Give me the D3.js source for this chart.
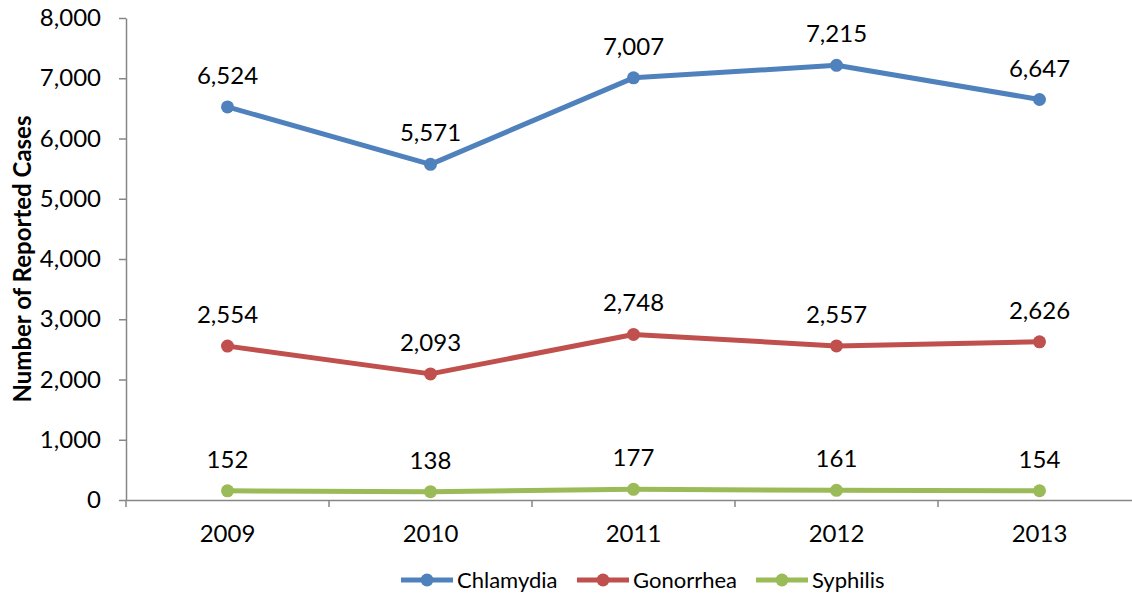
<!doctype html>
<html lang="en">
<head>
<meta charset="utf-8">
<title>Reported Cases</title>
<script src="https://cdn.jsdelivr.net/npm/d3@7"></script>
<style>
	body { margin: 0; background: #fff; }
	text { font-family: Lato, "Open Sans", sans-serif; fill: #000; }
</style>
</head>
<body>
<div id="chart"></div>
<script>
/* data */
var years = ['2009', '2010', '2011', '2012', '2013'];
var chlamydia = [6524, 5571, 7007, 7215, 6647];
var gonorrhea = [2554, 2093, 2748, 2557, 2626];
var syphilis = [152, 138, 177, 161, 154];
var yTicks = [0, 1000, 2000, 3000, 4000, 5000, 6000, 7000, 8000];

var series = [
	{ name: 'Chlamydia', values: chlamydia, color: '#4f81bd' },
	{ name: 'Gonorrhea', values: gonorrhea, color: '#c0504d' },
	{ name: 'Syphilis', values: syphilis, color: '#9bbb59' }
];

/* view */
var size = { width: 1132, height: 595 };
var margin = { top: 18, right: -9, bottom: 95, left: 126 };

var svg = d3.select('#chart').append('svg')
	.attr('width', size.width)
	.attr('height', size.height);

var x = d3.scaleBand()
	.domain(years)
	.range([margin.left, size.width - margin.right]);

var y = d3.scaleLinear()
	.domain([0, 8000])
	.range([size.height - margin.bottom, margin.top]);

var fmt = d3.format(',');

// y axis
var yAxis = svg.append('g')
	.attr('transform', 'translate(' + margin.left + ',0)')
	.call(d3.axisLeft(y).tickValues(yTicks).tickFormat(fmt).tickSize(7).tickSizeOuter(0));
yAxis.select('.domain').attr('stroke', '#868686').attr('stroke-width', 1.5);
yAxis.selectAll('.tick line').attr('stroke', '#868686').attr('stroke-width', 1.5);
yAxis.selectAll('.tick text')
	.attr('x', -25)
	.style('font-size', '24px');

// x axis, ticks at band edges
var xAxis = svg.append('g')
	.attr('transform', 'translate(0,' + y(0) + ')')
	.call(d3.axisBottom(x).tickSize(0).tickSizeOuter(0));
xAxis.select('.domain').attr('stroke', '#868686').attr('stroke-width', 1.5);
xAxis.selectAll('.tick text')
	.attr('y', 25)
	.style('font-size', '24px');
xAxis.selectAll('.edge')
	.data(years.map(function(d){ return x(d); }).concat([x.range()[1]]))
	.enter().append('line')
	.attr('x1', function(d){ return d; })
	.attr('x2', function(d){ return d; })
	.attr('y1', 0)
	.attr('y2', 7)
	.attr('stroke', '#868686')
	.attr('stroke-width', 1.5);

// y axis title
svg.append('text')
	.attr('transform', 'translate(31,' + y(4000) + ') rotate(-90)')
	.attr('text-anchor', 'middle')
	.style('font-size', '24px')
	.style('font-weight', 'bold')
	.text('Number of Reported Cases');

// lines
var cx = function(d, i){ return x(years[i]) + x.bandwidth() / 2; };
var line = d3.line()
	.x(cx)
	.y(function(d){ return y(d); });

var groups = svg.selectAll('g.series')
	.data(series)
	.enter().append('g')
	.attr('class', 'series');

groups.append('path')
	.attr('d', function(s){ return line(s.values); })
	.attr('fill', 'none')
	.attr('stroke', function(s){ return s.color; })
	.attr('stroke-width', 5)
	.attr('stroke-linejoin', 'round');

groups.each(function(s){
	var g = d3.select(this);
	g.selectAll('circle')
		.data(s.values)
		.enter().append('circle')
		.attr('cx', cx)
		.attr('cy', function(d){ return y(d); })
		.attr('r', 6.5)
		.attr('fill', s.color);
	g.selectAll('text.label')
		.data(s.values)
		.enter().append('text')
		.attr('class', 'label')
		.attr('x', cx)
		.attr('y', function(d){ return y(d) - 23; })
		.attr('text-anchor', 'middle')
		.style('font-size', '24px')
		.text(fmt);
});

// legend
var legendX = [401, 577, 756];
var legend = svg.selectAll('g.legend')
	.data(series)
	.enter().append('g')
	.attr('class', 'legend')
	.attr('transform', function(d, i){ return 'translate(' + legendX[i] + ',580)'; });
legend.append('line')
	.attr('x1', 0).attr('x2', 52)
	.attr('stroke', function(d){ return d.color; })
	.attr('stroke-width', 5);
legend.append('circle')
	.attr('cx', 26)
	.attr('r', 6.5)
	.attr('fill', function(d){ return d.color; });
legend.append('text')
	.attr('x', 56)
	.attr('dy', '0.35em')
	.style('font-size', '22px')
	.text(function(d){ return d.name; });
</script>
</body>
</html>
